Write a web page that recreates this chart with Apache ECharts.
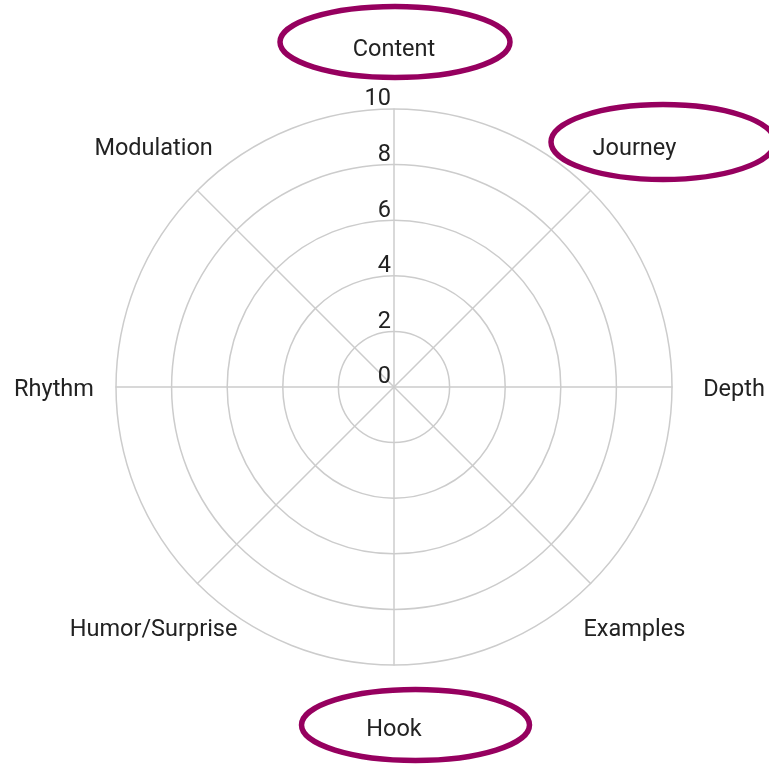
<!DOCTYPE html>
<html>
<head>
<meta charset="utf-8">
<script src="https://cdn.jsdelivr.net/npm/echarts@6/dist/echarts.min.js"></script>
<style>html,body{margin:0;padding:0;background:#fff}#c{width:769px;height:768px}</style>
</head>
<body>
<div id="c"></div>
<script>
// Axes in clockwise order starting at the top
const categories = ['Content', 'Journey', 'Depth', 'Examples', 'Hook', 'Humor/Surprise', 'Rhythm', 'Modulation'];
const axisMax = 10;
const tickInterval = 2;
const tickLabels = ['0', '2', '4', '6', '8', '10'];
const seriesValues = []; // no data polygon drawn in the reference
const highlighted = ['Content', 'Journey', 'Hook'];

// ECharts radar runs counter-clockwise; reorder so the picture reads clockwise
const ccw = [categories[0]].concat(categories.slice(1).reverse());

const chart = echarts.init(document.getElementById('c'), null, {renderer: 'canvas'});
const center = [394, 387];
const radius = 278;
const font = 'Roboto';

chart.setOption({
  animation: false,
  radar: {
    center: center,
    radius: radius,
    startAngle: 90,
    shape: 'circle',
    splitNumber: 5,
    indicator: ccw.map(n => ({name: n, min: 0, max: axisMax})),
    axisName: {
      color: '#222',
      fontFamily: font,
      fontSize: 23.5,
      align: 'center',
      verticalAlign: 'middle',
      formatter: (n) => '{a|' + n + '}',
      rich: {a: {color: '#222', fontFamily: font, fontSize: 23.5, padding: [6, 0, 0, 0]}}
    },
    nameGap: 62,
    axisLine: {lineStyle: {color: '#cccccc', width: 1.5}},
    splitLine: {lineStyle: {color: '#cccccc', width: 1.5}},
    splitArea: {show: false},
    axisTick: {show: false},
    axisLabel: {show: false}
  },
  polar: {center: center, radius: radius},
  angleAxis: {
    type: 'value', startAngle: 90, min: 0, max: 360,
    axisLine: {show: false}, axisTick: {show: false}, axisLabel: {show: false}, splitLine: {show: false}
  },
  radiusAxis: {
    type: 'value', min: 0, max: axisMax, interval: tickInterval,
    axisLine: {show: false}, axisTick: {show: false}, splitLine: {show: false},
    axisLabel: {
      show: true, color: '#222', fontFamily: font, fontSize: 23.5,
      formatter: (v) => tickLabels[Math.round(v / tickInterval)] || '',
      align: 'right', verticalAlign: 'bottom', margin: 3, lineHeight: 19
    }
  },
  series: [{
    type: 'radar',
    data: seriesValues.length ? [{value: seriesValues}] : [],
    symbol: 'none'
  }],
  graphic: [
    {type: 'ellipse', shape: {cx: 395, cy: 42, rx: 115, ry: 35.5}, style: {fill: 'none', stroke: '#96005f', lineWidth: 5.5}},
    {type: 'ellipse', shape: {cx: 663, cy: 142, rx: 112, ry: 37.5}, style: {fill: 'none', stroke: '#96005f', lineWidth: 5.5}},
    {type: 'ellipse', shape: {cx: 415.5, cy: 725, rx: 114, ry: 35.5}, style: {fill: 'none', stroke: '#96005f', lineWidth: 5.5}}
  ]
});
</script>
</body>
</html>
